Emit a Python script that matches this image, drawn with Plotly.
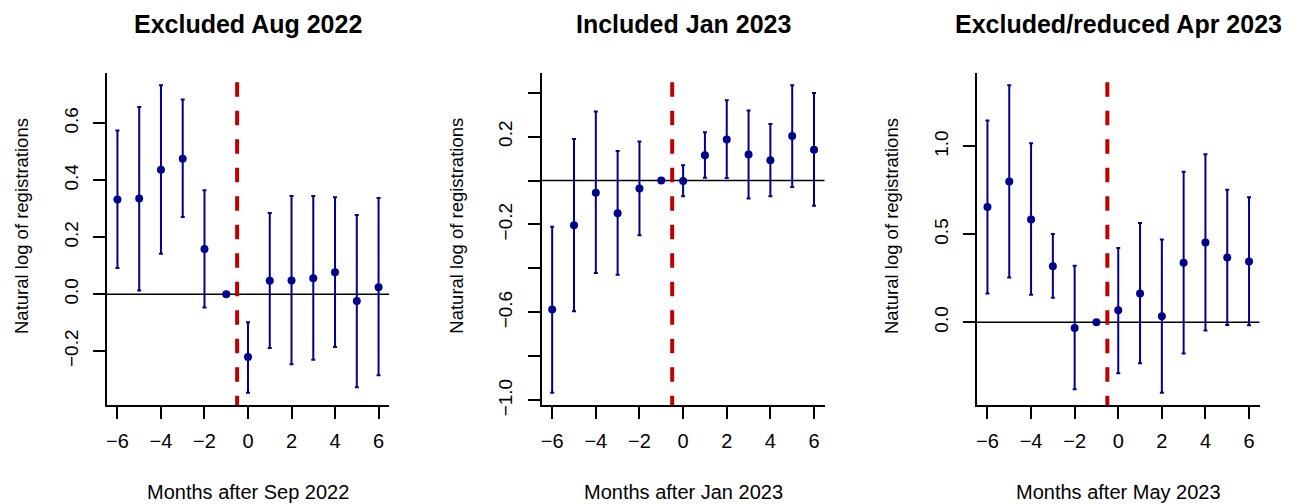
import numpy as np
import plotly.graph_objects as go

# Event-time (months relative to the policy change)
months = [-6, -5, -4, -3, -2, -1, 0, 1, 2, 3, 4, 5, 6]

# Panel 1: Excluded Aug 2022
est_aug22 = [0.332, 0.336, 0.437, 0.475, 0.158, 0.0, -0.221, 0.047, 0.048, 0.056, 0.077, -0.024, 0.024]
lo_aug22 = [0.092, 0.013, 0.142, 0.271, -0.047, None, -0.346, -0.189, -0.246, -0.230, -0.186, -0.327, -0.285]
hi_aug22 = [0.574, 0.657, 0.733, 0.683, 0.365, None, -0.099, 0.285, 0.344, 0.344, 0.340, 0.278, 0.337]

# Panel 2: Included Jan 2023
est_jan23 = [-0.587, -0.204, -0.056, -0.149, -0.036, 0.0, -0.002, 0.115, 0.187, 0.118, 0.092, 0.202, 0.140]
lo_jan23 = [-0.965, -0.595, -0.421, -0.429, -0.249, None, -0.072, 0.012, 0.011, -0.082, -0.072, -0.029, -0.115]
hi_jan23 = [-0.210, 0.189, 0.314, 0.134, 0.177, None, 0.069, 0.220, 0.365, 0.318, 0.257, 0.433, 0.398]

# Panel 3: Excluded/reduced Apr 2023
est_apr23 = [0.655, 0.800, 0.585, 0.319, -0.032, 0.0, 0.068, 0.164, 0.034, 0.338, 0.453, 0.368, 0.345]
lo_apr23 = [0.164, 0.255, 0.157, 0.140, -0.381, None, -0.289, -0.232, -0.400, -0.177, -0.047, -0.015, -0.017]
hi_apr23 = [1.147, 1.347, 1.017, 0.502, 0.321, None, 0.423, 0.564, 0.470, 0.855, 0.955, 0.753, 0.711]

titles = ["Excluded Aug 2022", "Included Jan 2023", "Excluded/reduced Apr 2023"]
xlabels = ["Months after Sep 2022", "Months after Jan 2023", "Months after May 2023"]
ylabel = "Natural log of registrations"
event_line = -0.5

x_tickvals = [-6, -4, -2, 0, 2, 4, 6]
x_ticktext = ["\u22126", "\u22124", "\u22122", "0", "2", "4", "6"]

y_tickvals = [
    [-0.2, 0.0, 0.2, 0.4, 0.6],
    [-1.0, -0.8, -0.6, -0.4, -0.2, 0.0, 0.2, 0.4],
    [0.0, 0.5, 1.0],
]
y_ticktext = [
    ["\u22120.2", "0.0", "0.2", "0.4", "0.6"],
    ["\u22121.0", "", "\u22120.6", "", "\u22120.2", "", "0.2", ""],
    ["0.0", "0.5", "1.0"],
]

panels = [
    (est_aug22, lo_aug22, hi_aug22),
    (est_jan23, lo_jan23, hi_jan23),
    (est_apr23, lo_apr23, hi_apr23),
]

W, H = 1302, 504
FONT = "Liberation Sans, Arial, Helvetica, sans-serif"
NAVY = "#00008B"
RED = "#C00000"

# Plot-region geometry in pixels
x_dom_px = [(107, 389), (541.7, 824.5), (977, 1259.5)]
top_px, bottom_px = 73, 405
y_dom = [1 - bottom_px / H, 1 - top_px / H]
dash_lead_px = 19.3  # the dashed event line starts this far above the plot top


def padded(lo, hi, frac=0.04):
    span = hi - lo
    return [lo - frac * span, hi + frac * span]


fig = go.Figure()

for i, (est, lo, hi) in enumerate(panels):
    n = i + 1
    xa = "x" if n == 1 else f"x{n}"
    ya = "y" if n == 1 else f"y{n}"
    plus = [np.nan if h is None else h - e for e, h in zip(est, hi)]
    minus = [np.nan if l is None else e - l for e, l in zip(est, lo)]

    vals = [v for v in est + lo + hi if v is not None]
    yr = padded(min(vals), max(vals))
    xr = padded(min(months), max(months))
    per_px = (yr[1] - yr[0]) / (bottom_px - top_px)

    # Zero reference line
    fig.add_shape(type="line", xref=f"{xa} domain", yref=ya, x0=0, x1=1, y0=0, y1=0,
                  layer="below", line=dict(color="black", width=1.5))

    fig.add_trace(go.Scatter(
        x=months, y=est, mode="markers",
        marker=dict(color=NAVY, size=8),
        error_y=dict(type="data", symmetric=False, array=plus, arrayminus=minus,
                     color=NAVY, thickness=2, width=2),
        xaxis=xa, yaxis=ya, showlegend=False, hoverinfo="skip",
    ))

    # Dashed event-date line, drawn top-down and clipped to the plot area
    fig.add_trace(go.Scatter(
        x=[event_line, event_line],
        y=[yr[1] + dash_lead_px * per_px, yr[0] - 20 * per_px],
        mode="lines", line=dict(color=RED, width=4, dash="14.5px,14px"),
        xaxis=xa, yaxis=ya, showlegend=False, hoverinfo="skip",
    ))

    x0, x1 = x_dom_px[i]
    axis_common = dict(
        showline=True, linecolor="black", linewidth=1.5,
        ticks="outside", ticklen=12, tickwidth=1.5, tickcolor="black",
        showgrid=False, zeroline=False, automargin=False,
        mirror=False,
    )
    fig.layout[f"xaxis{'' if n == 1 else n}"] = dict(
        axis_common, domain=[x0 / W, x1 / W], range=xr,
        tickvals=x_tickvals, ticktext=x_ticktext,
        tickfont=dict(family=FONT, size=20, color="black"),
        anchor=ya, ticklabelstandoff=5,
    )
    fig.layout[f"yaxis{'' if n == 1 else n}"] = dict(
        axis_common, domain=y_dom, range=yr,
        tickvals=y_tickvals[i], ticktext=y_ticktext[i],
        tickfont=dict(family=FONT, size=19, color="black"),
        tickangle=-90, anchor=xa, ticklabelstandoff=8,
    )

    # Panel title and axis titles
    fig.add_annotation(text=f"<b>{titles[i]}</b>", xref=f"{xa} domain", yref="paper",
                       x=0.5, y=1 - 24 / H, xanchor="center", yanchor="middle",
                       showarrow=False, font=dict(family=FONT, size=25, color="black"))
    fig.add_annotation(text=xlabels[i], xref=f"{xa} domain", yref="paper",
                       x=0.5, y=1 - 492 / H, xanchor="center", yanchor="middle",
                       showarrow=False, font=dict(family=FONT, size=20, color="black"))
    fig.add_annotation(text=ylabel, xref=f"{xa} domain", yref="paper",
                       x=0, y=1 - 226 / H, xshift=-85, xanchor="center", yanchor="middle",
                       textangle=-90, showarrow=False,
                       font=dict(family=FONT, size=18.5, color="black"))

fig.update_layout(
    width=W, height=H,
    margin=dict(l=0, r=0, t=0, b=0),
    paper_bgcolor="white", plot_bgcolor="white",
)

fig.write_html("out.html")
